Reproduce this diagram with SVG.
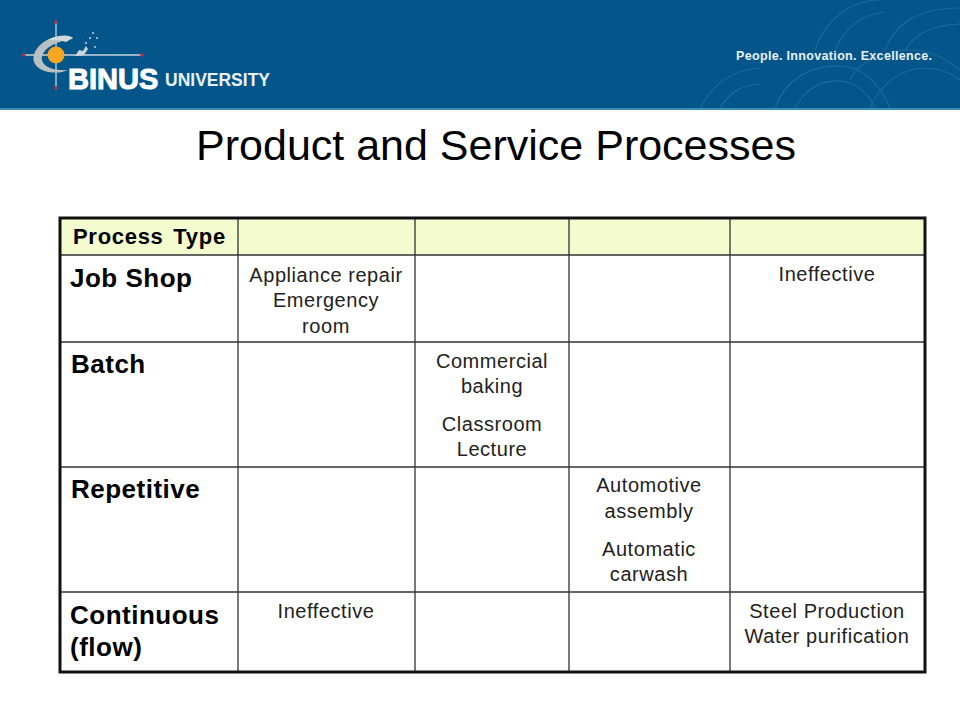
<svg xmlns="http://www.w3.org/2000/svg" width="960" height="720" viewBox="0 0 960 720">
<defs><style>
text{font-family:"Liberation Sans",Arial,sans-serif;fill:#000}
.c{font-size:20px;text-anchor:middle;fill:#222;letter-spacing:.55px}
.h{font-size:26px;font-weight:700;letter-spacing:.5px}
.g{stroke:#333;stroke-width:1.3;fill:none}
.w{fill:none;stroke:#2a7da5;stroke-width:1.2;opacity:.55}
</style></defs>
<rect width="960" height="720" fill="#fff"/>
<g id="banner">
<rect x="0" y="0" width="960" height="108" fill="#04568a"/>
<rect x="0" y="108" width="960" height="2" fill="#3f8fb5"/>
<g class="w">
<path d="M700 108C712 85 730 70 760 68M720 108C730 92 742 85 760 84"/>
<path d="M775 108C785 80 810 65 840 66C865 67 880 85 890 108M795 108C805 90 820 80 840 81C855 82 868 92 875 108"/>
<path d="M850 80C860 60 885 50 910 50C930 50 945 58 960 70M870 108C880 85 900 68 925 68C940 68 950 72 960 80"/>
<path d="M815 50C825 20 850 0 880 0M835 50C845 28 860 15 885 12"/>
<path d="M885 50C895 25 915 8 960 8M905 50C915 35 930 25 960 24"/>
</g>
<text x="736" y="60" font-size="12.5" font-weight="700" style="fill:#e8f0f5;letter-spacing:.33px">People. Innovation. Excellence.</text>
<g id="logo">
<path d="M56 21V88M24 55H142" stroke="#c5d3dc" stroke-width="1.3" fill="none"/>
<circle cx="56" cy="22" r="1.8" fill="#b5324f"/><circle cx="56" cy="88" r="1.8" fill="#b5324f"/><circle cx="24" cy="55" r="1.8" fill="#b5324f"/><circle cx="142" cy="55" r="1.8" fill="#b5324f"/>
<path d="M73 38C52 30 30 48 34 62C38 73 58 75 68 70C52 71 40 66 42 56C45 46 58 42 73 38Z" fill="#b9c0c4"/>
<path d="M48 40C60 34 70 35 73 38L66 42C60 40 54 40 48 40Z" fill="#d4d9db"/>
<circle cx="56" cy="55" r="8.5" fill="#f5a623"/>
<path d="M75 56l4-6 4 1 3-5 2 3-4 6-4 1z" fill="#c8d2d8"/>
<circle cx="86" cy="43" r="1" fill="#c8d2d8"/><circle cx="90" cy="38" r="1" fill="#c8d2d8"/><circle cx="95" cy="47" r="1" fill="#c8d2d8"/><circle cx="93" cy="33" r="1" fill="#c8d2d8"/><circle cx="97" cy="38" r="1" fill="#c8d2d8"/>
<text x="68" y="89" font-size="29" font-weight="700" style="fill:#fff;stroke:#fff;stroke-width:1">BINUS</text>
<text x="165" y="86" font-size="17.5" font-weight="700" style="fill:#e8f0f5">UNIVERSITY</text>
</g>
</g>
<text x="496" y="160" font-size="43" text-anchor="middle">Product and Service Processes</text>
<g id="table">
<rect x="60" y="218" width="865" height="37" fill="#f4fbcf"/>
<path class="g" d="M238 218V672M415 218V672M569 218V672M730 218V672M60 255H925M60 342H925M60 467H925M60 592H925"/>
<rect x="60" y="218" width="865" height="454" fill="none" stroke="#111" stroke-width="3"/>
</g>
<g id="row-labels">
<text x="73" y="244" font-size="22" font-weight="700" style="letter-spacing:.7px;word-spacing:3px">Process Type</text>
<text class="h" x="70" y="287">Job Shop</text>
<text class="h" x="71" y="373">Batch</text>
<text class="h" x="71" y="498">Repetitive</text>
<text class="h" x="70" y="624">Continuous</text>
<text class="h" x="70" y="656">(flow)</text>
</g>
<g id="cells">
<text class="c" x="326" y="282">Appliance repair</text>
<text class="c" x="326" y="307">Emergency</text>
<text class="c" x="326" y="333">room</text>
<text class="c" x="827" y="281">Ineffective</text>
<text class="c" x="492" y="368">Commercial</text>
<text class="c" x="492" y="393">baking</text>
<text class="c" x="492" y="431">Classroom</text>
<text class="c" x="492" y="456">Lecture</text>
<text class="c" x="649" y="492">Automotive</text>
<text class="c" x="649" y="518">assembly</text>
<text class="c" x="649" y="556">Automatic</text>
<text class="c" x="649" y="581">carwash</text>
<text class="c" x="326" y="618">Ineffective</text>
<text class="c" x="827" y="618">Steel Production</text>
<text class="c" x="827" y="643">Water purification</text>
</g>
</svg>
